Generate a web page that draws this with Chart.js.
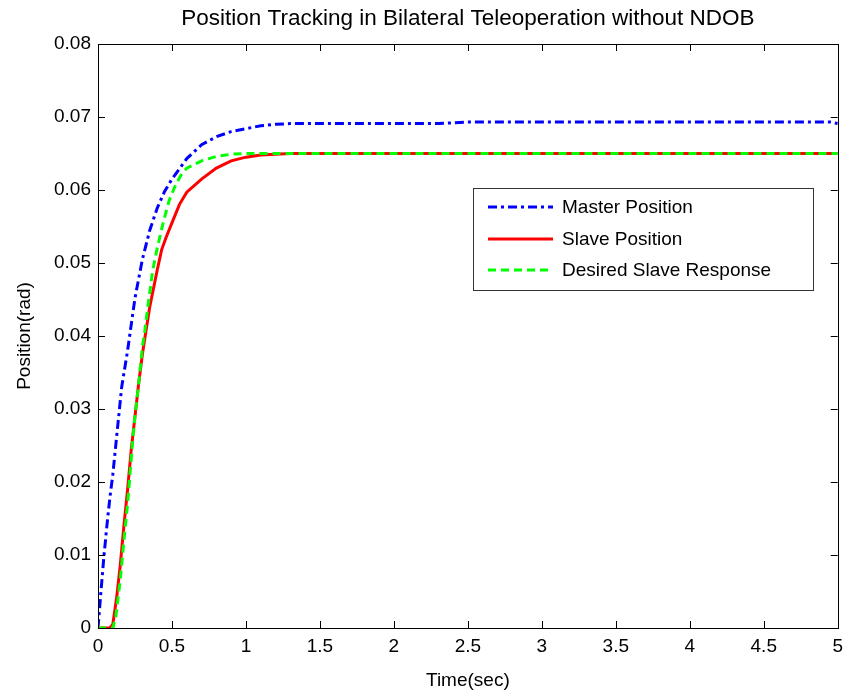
<!DOCTYPE html>
<html>
<head>
<meta charset="utf-8">
<script src="https://cdn.jsdelivr.net/npm/chart.js@4/dist/chart.umd.min.js"></script>
<style>
  body { margin: 0; background: #fff; }
  canvas { display: block; }
</style>
</head>
<body>
<canvas id="posChart" width="850" height="692"></canvas>
<script>
// values (time in sec, position in rad)
const masterT = [0, 0.02, 0.04, 0.06, 0.08, 0.1, 0.13, 0.16, 0.2, 0.25, 0.3, 0.35, 0.4, 0.45, 0.5, 0.6, 0.7, 0.8, 0.9, 1.0, 1.1, 1.2, 1.3, 1.5, 2, 2.3, 2.5, 3, 4, 4.95, 5];
const masterPos = [0, 0.005, 0.0098, 0.014, 0.0178, 0.021, 0.027, 0.033, 0.038, 0.0452, 0.0505, 0.0545, 0.0575, 0.0598, 0.0615, 0.0643, 0.0662, 0.0673, 0.068, 0.0684, 0.0688, 0.069, 0.0691, 0.0691, 0.0691, 0.0691, 0.0693, 0.0693, 0.0693, 0.0693, 0.0691];

const slaveT = [0, 0.08, 0.1, 0.125, 0.15, 0.175, 0.2, 0.225, 0.25, 0.275, 0.3, 0.325, 0.35, 0.375, 0.4, 0.43, 0.46, 0.5, 0.55, 0.6, 0.7, 0.8, 0.9, 1.0, 1.1, 1.2, 1.3, 2, 3, 4, 5];
const slavePos = [0, 0, 0.0005, 0.004, 0.0085, 0.014, 0.019, 0.0245, 0.029, 0.0335, 0.0375, 0.0408, 0.044, 0.0465, 0.049, 0.0518, 0.0535, 0.0555, 0.058, 0.0597, 0.0615, 0.063, 0.064, 0.0645, 0.0648, 0.0649, 0.065, 0.065, 0.065, 0.065, 0.065];

const desiredT = [0, 0.1, 0.12, 0.15, 0.18, 0.2, 0.238, 0.25, 0.275, 0.3, 0.317, 0.34, 0.37, 0.4, 0.44, 0.48, 0.52, 0.56, 0.6, 0.7, 0.8, 0.9, 1.0, 1.1, 5];
const desiredPos = [0, 0, 0.0015, 0.0065, 0.013, 0.017, 0.0265, 0.029, 0.0335, 0.0385, 0.0408, 0.0445, 0.049, 0.052, 0.0555, 0.0585, 0.0605, 0.062, 0.063, 0.064, 0.0646, 0.0649, 0.065, 0.065, 0.065];

const seriesNames = ['Master Position', 'Slave Position', 'Desired Slave Response'];
const chartTitle = 'Position Tracking in Bilateral Teleoperation without NDOB';
const xTicks = [0, 0.5, 1, 1.5, 2, 2.5, 3, 3.5, 4, 4.5, 5];
const yTicks = [0, 0.01, 0.02, 0.03, 0.04, 0.05, 0.06, 0.07, 0.08];

const FONT = 'Arial, "Liberation Sans", sans-serif';

function toPoints(ts, vs) {
    return ts.map((t, i) => ({ x: t, y: vs[i] }));
}

// MATLAB style box, inward ticks, title over the axes and legend inside them
const matlabFrame = {
    id: 'matlabFrame',
    afterDraw(chart) {
        const ctx = chart.ctx;
        const a = chart.chartArea;
        const xs = chart.scales.x, ys = chart.scales.y;
        ctx.save();
        ctx.strokeStyle = '#000';
        ctx.lineWidth = 1;
        ctx.beginPath();
        xTicks.forEach(v => {
            const px = Math.round(xs.getPixelForValue(v)) + 0.5;
            ctx.moveTo(px, a.bottom); ctx.lineTo(px, a.bottom - 7);
            ctx.moveTo(px, a.top); ctx.lineTo(px, a.top + 7);
        });
        yTicks.forEach(v => {
            const py = Math.round(ys.getPixelForValue(v)) + 0.5;
            ctx.moveTo(a.left, py); ctx.lineTo(a.left + 7, py);
            ctx.moveTo(a.right, py); ctx.lineTo(a.right - 7, py);
        });
        ctx.stroke();
        ctx.strokeRect(Math.round(a.left) + 0.5, Math.round(a.top) + 0.5,
            Math.round(a.right - a.left), Math.round(a.bottom - a.top));

        // title, centred on the plot box like MATLAB does
        ctx.fillStyle = '#000';
        ctx.font = '22.5px ' + FONT;
        ctx.textAlign = 'center';
        ctx.textBaseline = 'middle';
        ctx.fillText(chartTitle, (a.left + a.right) / 2, 19);

        // legend
        const lx = 473, ly = 188, lw = 340, lh = 102;
        ctx.fillStyle = '#fff';
        ctx.fillRect(lx, ly, lw, lh);
        ctx.strokeStyle = '#333';
        ctx.strokeRect(lx + 0.5, ly + 0.5, lw, lh);
        const rows = [207, 239, 270];
        chart.data.datasets.forEach((ds, i) => {
            const y = rows[i];
            ctx.strokeStyle = ds.borderColor;
            ctx.lineWidth = 3;
            ctx.setLineDash(ds.borderDash || []);
            ctx.beginPath();
            ctx.moveTo(488, y); ctx.lineTo(553, y);
            ctx.stroke();
            ctx.setLineDash([]);
            ctx.fillStyle = '#000';
            ctx.font = '19px ' + FONT;
            ctx.textBaseline = 'middle';
            ctx.textAlign = 'left';
            ctx.fillText(ds.label, 562, y + 1);
        });
        ctx.restore();
    }
};

const ctx = document.getElementById('posChart').getContext('2d');
const posChart = new Chart(ctx, {
    type: 'line',
    data: {
        datasets: [{
            label: seriesNames[0],
            data: toPoints(masterT, masterPos),
            borderColor: '#0000ff',
            borderWidth: 3,
            borderDash: [9, 4, 3, 4],
            order: 2
        }, {
            label: seriesNames[1],
            data: toPoints(slaveT, slavePos),
            borderColor: '#ff0000',
            borderWidth: 3,
            order: 1
        }, {
            label: seriesNames[2],
            data: toPoints(desiredT, desiredPos),
            borderColor: '#00ff00',
            borderWidth: 3,
            borderDash: [8, 5],
            order: 0
        }]
    },
    options: {
        responsive: false,
        animation: false,
        layout: { padding: { left: 0, right: 10, top: 44, bottom: 0 } },
        elements: { point: { radius: 0 }, line: { tension: 0 } },
        plugins: {
            legend: { display: false },
            tooltip: { enabled: false },
            title: { display: false }
        },
        scales: {
            x: {
                type: 'linear',
                min: 0,
                max: 5,
                afterBuildTicks: (s) => { s.ticks = xTicks.map(v => ({ value: v })); },
                afterFit: (s) => { s.height = 64; },
                ticks: {
                    color: '#000',
                    font: { family: FONT, size: 19 },
                    padding: 7,
                    maxRotation: 0,
                    callback: (v) => String(v)
                },
                grid: { display: false, drawTicks: false },
                border: { display: false },
                title: {
                    display: true,
                    text: 'Time(sec)',
                    color: '#000',
                    font: { family: FONT, size: 19 },
                    padding: { top: 2, bottom: 0 }
                }
            },
            y: {
                min: 0,
                max: 0.08,
                afterBuildTicks: (s) => { s.ticks = yTicks.map(v => ({ value: v })); },
                afterFit: (s) => { s.width = 98; },
                ticks: {
                    color: '#000',
                    font: { family: FONT, size: 19 },
                    padding: 7,
                    callback: (v) => v === 0 ? '0' : v.toFixed(2)
                },
                grid: { display: false, drawTicks: false },
                border: { display: false },
                title: {
                    display: true,
                    text: 'Position(rad)',
                    color: '#000',
                    font: { family: FONT, size: 19 },
                    padding: { top: 13, bottom: 4 }
                }
            }
        }
    },
    plugins: [matlabFrame]
});
</script>
</body>
</html>
